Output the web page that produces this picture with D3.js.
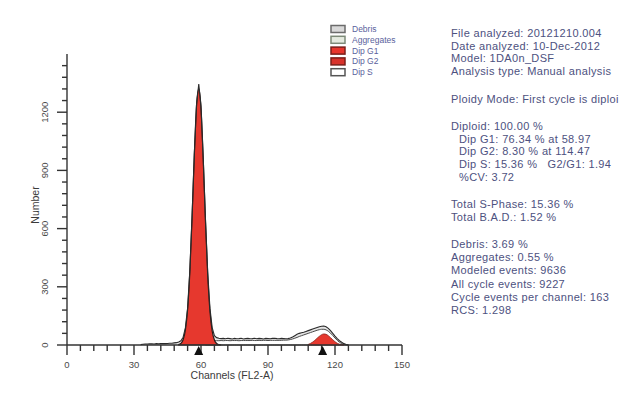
<!DOCTYPE html>
<html><head><meta charset="utf-8">
<script src="https://cdn.jsdelivr.net/npm/d3@7"></script>
<style>body{margin:0;background:#fff;} svg{display:block;}</style>
</head><body>
<svg id="chart" width="640" height="393"></svg>
<script>
// DNA content histogram (events per channel) with the fitted cell-cycle model
const observedStart = 33;
const observed = [2,4,5,5,6,6,5,7,6,7,8,7,8,9,9,11,12,16,22,40,88,190,385,665,985,1240,1345,1230,965,650,375,190,90,48,38,35,33,34,32,35,33,31,34,32,33,35,31,33,34,32,33,35,32,34,33,31,34,33,32,34,35,33,32,34,33,32,33,36,41,48,55,60,63,66,70,74,78,82,86,90,94,97,98,94,86,74,60,46,33,22,14,7,3,0];

// S-phase component stacked with G2 (model outline)
const sPhaseStart = 62;
const sPhase = [18,20,21,22,22,22,22,23,22,23,23,22,23,23,23,22,23,23,23,23,23,24,23,23,24,23,24,24,23,24,24,24,24,24,24,25,25,26,28,31,35,39,44,48,52,56,60,64,68,72,76,79,81,81,78,71,61,49,36,24,14,7,3,1,0];

// Diploid G1 peak (model)
const g1Start = 50;
const g1 = [2,8,27,77,183,377,657,975,1234,1320,1222,956,638,363,176,72,26,8,2,0];

// Diploid G2 peak (model)
const g2Start = 108;
const g2 = [3,8,15,24,35,45,53,57,55,48,38,27,17,9,4,1,0];

// Peak positions (channels)
const peakMarkers = [58.97, 114.47];

const xTicks = [0, 30, 60, 90, 120, 150];
const yTicks = [0, 300, 600, 900, 1200];

const legendItems = ["Debris", "Aggregates", "Dip G1", "Dip G2", "Dip S"];
const legendFills = ["#d9d9d9", "#e4eadf", "#e8352c", "#d8322b", "#ffffff"];
const legendStrokes = ["#6b6b6b", "#7d8a78", "#7a1f1a", "#7a1f1a", "#555555"];

const reportLines = [
  {t: "File analyzed: 20121210.004", y: 33, indent: 0},
  {t: "Date analyzed: 10-Dec-2012", y: 45.5, indent: 0},
  {t: "Model: 1DA0n_DSF", y: 58, indent: 0},
  {t: "Analysis type: Manual analysis", y: 70.5, indent: 0},
  {t: "Ploidy Mode: First cycle is diploi", y: 99, indent: 0},
  {t: "Diploid: 100.00 %", y: 126, indent: 0},
  {t: "Dip G1: 76.34 % at 58.97", y: 138.5, indent: 1},
  {t: "Dip G2: 8.30 % at 114.47", y: 151, indent: 1},
  {t: "Dip S: 15.36 %   G2/G1: 1.94", y: 164, indent: 1},
  {t: "%CV: 3.72", y: 177, indent: 1},
  {t: "Total S-Phase: 15.36 %", y: 204, indent: 0},
  {t: "Total B.A.D.: 1.52 %", y: 217, indent: 0},
  {t: "Debris: 3.69 %", y: 244, indent: 0},
  {t: "Aggregates: 0.55 %", y: 257, indent: 0},
  {t: "Modeled events: 9636", y: 270, indent: 0},
  {t: "All cycle events: 9227", y: 283.5, indent: 0},
  {t: "Cycle events per channel: 163", y: 297, indent: 0},
  {t: "RCS: 1.298", y: 310, indent: 0}
];

const svg = d3.select("#chart");
const font = "'Liberation Sans', Arial, sans-serif";

const x = d3.scaleLinear().domain([0, 150]).range([67, 402]);
const y = d3.scaleLinear().domain([0, 1500]).range([345, 54]);

const toPoints = (start, arr) => arr.map((v, i) => [start + i, v]);

const area = d3.area().x(d => x(d[0])).y0(y(0)).y1(d => y(d[1]));
const line = d3.line().x(d => x(d[0])).y(d => y(d[1]));
const smoothArea = d3.area().x(d => x(d[0])).y0(y(0)).y1(d => y(d[1])).curve(d3.curveMonotoneX);

const plot = svg.append("g");

// observed histogram
plot.append("path")
  .datum(toPoints(observedStart, observed))
  .attr("d", area)
  .attr("fill", "#e4e4e4")
  .attr("stroke", "none");

// S-phase + G2 model outline
plot.append("path")
  .datum(toPoints(sPhaseStart, sPhase))
  .attr("d", smoothArea)
  .attr("fill", "#ffffff")
  .attr("stroke", "#4a4a4a")
  .attr("stroke-width", 1);

// G2 peak
plot.append("path")
  .datum(toPoints(g2Start, g2))
  .attr("d", smoothArea)
  .attr("fill", "#e6382e")
  .attr("stroke", "#8a241d")
  .attr("stroke-width", 0.8);

// G1 peak
plot.append("path")
  .datum(toPoints(g1Start, g1))
  .attr("d", smoothArea)
  .attr("fill", "#e6382e")
  .attr("stroke", "#2a1a18")
  .attr("stroke-width", 1.2);

// observed outline on top
plot.append("path")
  .datum(toPoints(observedStart, observed))
  .attr("d", line)
  .attr("fill", "none")
  .attr("stroke", "#2b2b2b")
  .attr("stroke-width", 1.1);

// axes
const axisColor = "#333";
const xMinor = d3.range(0, 151, 6);
const yMinor = d3.range(0, 1441, 60);

const ax = svg.append("g").attr("stroke", axisColor).attr("stroke-width", 1.4);
ax.append("line").attr("x1", x(0)).attr("x2", x(150)).attr("y1", y(0)).attr("y2", y(0));
ax.append("line").attr("x1", x(0)).attr("x2", x(0)).attr("y1", y(0)).attr("y2", y(1500));
ax.selectAll(".xt").data(xMinor).join("line")
  .attr("x1", d => x(d)).attr("x2", d => x(d))
  .attr("y1", y(0)).attr("y2", d => y(0) + (d % 30 === 0 ? 10 : 6));
ax.selectAll(".yt").data(yMinor).join("line")
  .attr("y1", d => y(d)).attr("y2", d => y(d))
  .attr("x1", x(0)).attr("x2", d => x(0) - (d % 300 === 0 ? 10 : 5));

// tick labels
svg.selectAll(".xl").data(xTicks).join("text")
  .attr("x", d => x(d)).attr("y", 368)
  .attr("text-anchor", "middle")
  .attr("font-family", font).attr("font-size", 9.5).attr("fill", "#4a4a4a")
  .text(d => d);
svg.selectAll(".yl").data(yTicks).join("text")
  .attr("transform", d => `translate(48,${y(d)}) rotate(-90)`)
  .attr("text-anchor", "middle")
  .attr("font-family", font).attr("font-size", 9.5).attr("fill", "#4a4a4a")
  .text(d => d);

// axis titles
svg.append("text")
  .attr("x", 232).attr("y", 379)
  .attr("text-anchor", "middle")
  .attr("font-family", font).attr("font-size", 10.5).attr("fill", "#3a3a3a")
  .text("Channels (FL2-A)");
svg.append("text")
  .attr("transform", "translate(39,205) rotate(-90)")
  .attr("text-anchor", "middle")
  .attr("font-family", font).attr("font-size", 10.5).attr("fill", "#3a3a3a")
  .text("Number");

// peak markers
svg.selectAll(".mk").data(peakMarkers).join("path")
  .attr("d", d => `M${x(d)},${y(0) + 1}L${x(d) - 4.5},${y(0) + 10}L${x(d) + 4.5},${y(0) + 10}Z`)
  .attr("fill", "#111");

// legend
const lg = svg.append("g");
legendItems.forEach((name, i) => {
  const ly = 29 + i * 10.8;
  lg.append("rect")
    .attr("x", 331).attr("y", ly - 3.5).attr("width", 14).attr("height", 7)
    .attr("fill", legendFills[i]).attr("stroke", legendStrokes[i]).attr("stroke-width", 1.5);
  lg.append("text")
    .attr("x", 352).attr("y", ly + 3)
    .attr("font-family", font).attr("font-size", 8.5).attr("fill", "#5a5f9c")
    .text(name);
});

// analysis report
svg.selectAll(".rp").data(reportLines).join("text")
  .attr("x", d => 451 + d.indent * 8).attr("y", d => d.y + 4)
  .attr("font-family", font).attr("font-size", 11).attr("letter-spacing", 0.35)
  .attr("fill", "#4d5180")
  .style("white-space", "pre")
  .text(d => d.t);
</script>
</body></html>
